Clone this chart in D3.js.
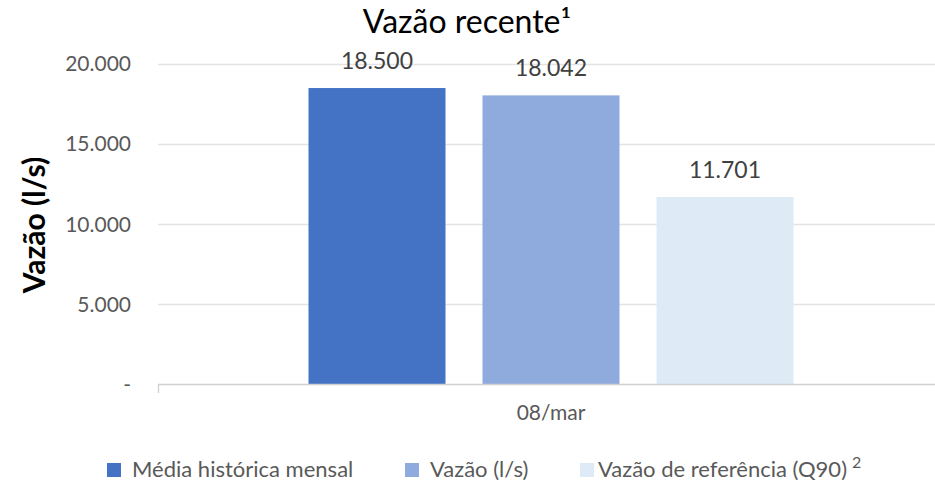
<!DOCTYPE html>
<html><head><meta charset="utf-8">
<script src="https://cdn.jsdelivr.net/npm/d3@7"></script>
<style>body{margin:0;background:#fff}svg{display:block}</style>
</head><body><svg id="c" width="935" height="485"></svg>
<script>
const categories = ["08/mar"];
const seriesNames = ["Média histórica mensal", "Vazão (l/s)", "Vazão de referência (Q90)"];
const seriesValues = [18500, 18042, 11701];
const seriesColors = ["#4472C4", "#8FAADC", "#DEEBF7"];
const yTicks = [0, 5000, 10000, 15000, 20000];
const yTickLabels = ["-", "5.000", "10.000", "15.000", "20.000"];
const title = "Vazão recente¹";
const yTitle = "Vazão (l/s)";

const font = "Lato, 'Open Sans', sans-serif";
const svg = d3.select("#c");
const L = 158, R = 944, T = 64, B = 384.5;

const y = d3.scaleLinear().domain([0, 20000]).range([B, T]);
const x0 = d3.scaleBand().domain(categories).range([L, R]);
const fmt = v => d3.format(",")(v).replace(/,/g, ".");

// gridlines
svg.append("g").selectAll("line").data(yTicks.filter(d => d > 0)).join("line")
  .attr("x1", L).attr("x2", 935).attr("y1", d => Math.round(y(d)) + 0.5).attr("y2", d => Math.round(y(d)) + 0.5)
  .attr("stroke", "#E3E3E3").attr("stroke-width", 1.3);

// y labels
svg.append("g").selectAll("text").data(yTicks).join("text")
  .attr("x", 131).attr("y", d => y(d)).attr("dy", "0.35em")
  .attr("text-anchor", "end").attr("font-family", font).attr("font-size", 21)
  .attr("fill", "#595959").text((d, i) => yTickLabels[i]);

categories.forEach(cat => {
  const c = x0(cat) + x0.bandwidth() / 2;
  const x1 = d3.scaleBand().domain(seriesNames).range([c - 242.5, c + 242.5]).paddingInner(37 / 174);
  const g = svg.append("g");
  g.selectAll("rect").data(seriesValues).join("rect")
    .attr("x", (d, i) => x1(seriesNames[i])).attr("width", x1.bandwidth())
    .attr("y", d => y(d)).attr("height", d => B - y(d))
    .attr("fill", (d, i) => seriesColors[i]);
  g.selectAll("text").data(seriesValues).join("text")
    .attr("x", (d, i) => x1(seriesNames[i]) + x1.bandwidth() / 2)
    .attr("y", d => y(d) - 19)
    .attr("text-anchor", "middle").attr("font-family", font).attr("font-size", 23)
    .attr("fill", "#404040").text(d => fmt(d));
  svg.append("text").attr("x", c).attr("y", 420).attr("text-anchor", "middle")
    .attr("font-family", font).attr("font-size", 21).attr("fill", "#595959").text(cat);
});

// baseline
svg.append("line").attr("x1", L).attr("x2", 935).attr("y1", B).attr("y2", B).attr("stroke", "#D0D0D0").attr("stroke-width", 1.3);
svg.append("line").attr("x1", L + 0.5).attr("x2", L + 0.5).attr("y1", B).attr("y2", 393).attr("stroke", "#D0D0D0").attr("stroke-width", 1.3);

// title
svg.append("text").attr("x", 467).attr("y", 33).attr("text-anchor", "middle")
  .attr("font-family", font).attr("font-size", 32).attr("fill", "#000").text(title);

// y title
svg.append("text").attr("transform", "translate(45,225) rotate(-90)").attr("text-anchor", "middle")
  .attr("font-family", font).attr("font-size", 30).attr("font-weight", "bold").attr("fill", "#000").text(yTitle);

// legend
const legSq = [107, 405, 580];
const legTx = [132, 430, 598];
const lg = svg.append("g");
seriesNames.forEach((n, i) => {
  lg.append("rect").attr("x", legSq[i]).attr("y", 463).attr("width", 14).attr("height", 14).attr("fill", seriesColors[i]);
  const t = lg.append("text").attr("x", legTx[i]).attr("y", 477).attr("font-family", font).attr("font-size", 22).attr("fill", "#595959").text(n);
  if (i === 2) {
    const bb = t.node().getBBox();
    lg.append("text").attr("x", bb.x + bb.width + 5).attr("y", 468).attr("font-family", font).attr("font-size", 16).attr("fill", "#595959").text("2");
  }
});
</script></body></html>
